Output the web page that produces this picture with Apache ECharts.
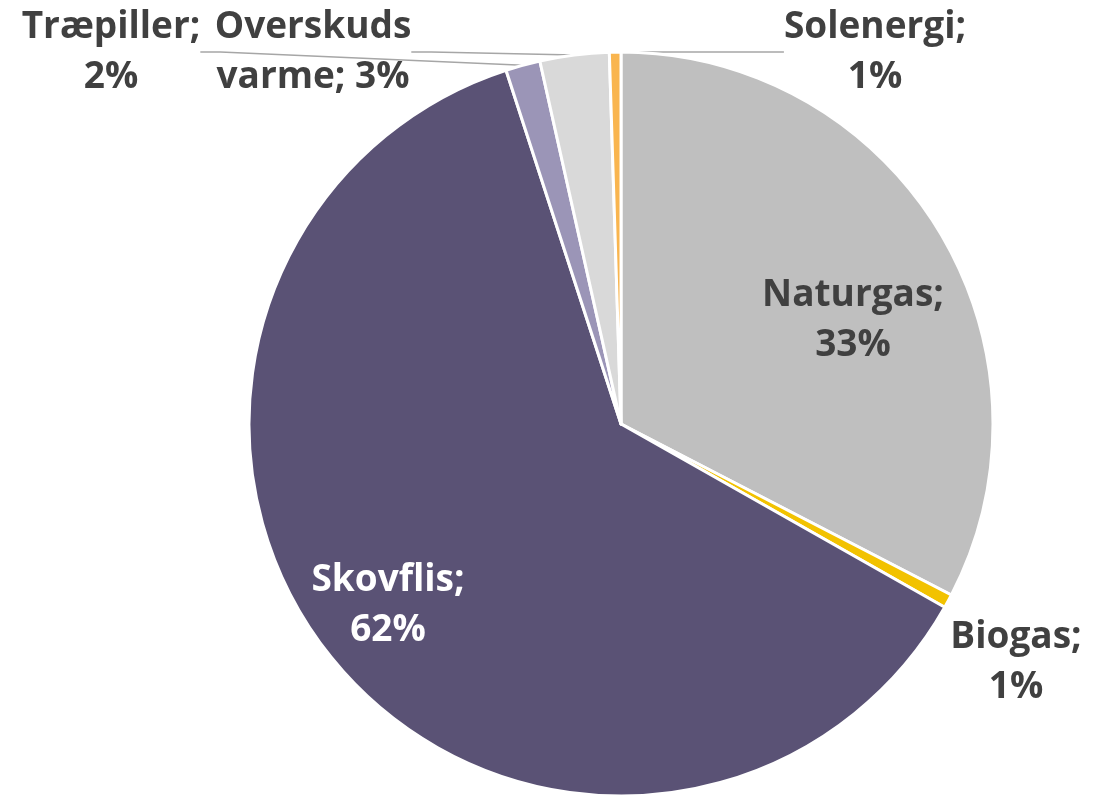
<!DOCTYPE html>
<html>
<head>
<meta charset="utf-8">
<script src="https://cdn.jsdelivr.net/npm/echarts@6/dist/echarts.min.js"></script>
<style>
  html, body { margin: 0; padding: 0; background: #fff; }
  #chart { width: 1107px; height: 795px; }
</style>
</head>
<body>
<div id="chart"></div>
<script>
// andel af varmeproduktion (%)
var names = ['Naturgas', 'Biogas', 'Skovflis', 'Træpiller', 'Overskuds\nvarme', 'Solenergi']
var values = [32.6, 0.6, 61.8, 1.5, 3.0, 0.5]
var colors = ['#bfbfbf', '#f2c200', '#5a5275', '#9b95b7', '#d9d9d9', '#f9b54f']
var insideLabels = ['Naturgas', 'Skovflis']

// label centres in px
var labelPos = [[853, 320], [1016, 662], [388, 605], [111, 52], [313, 52], [875, 52]]

var total = values.reduce(function (a, b) { return a + b }, 0)

var chart = echarts.init(document.getElementById('chart'))

var data = names.map(function (n, i) {
  var inside = insideLabels.indexOf(n) >= 0
  return {
    name: n,
    value: values[i],
    itemStyle: { color: colors[i] },
    label: {
      position: inside ? 'inside' : 'outside',
      color: n === 'Skovflis' ? '#ffffff' : '#404040'
    },
    labelLine: { show: !inside && n !== 'Biogas' }
  }
})

chart.setOption({
  animation: false,
  series: [
    {
      type: 'pie',
      center: [621, 424],
      radius: [0, 372],
      startAngle: 90,
      clockwise: true,
      avoidLabelOverlap: false,
      itemStyle: { borderColor: '#ffffff', borderWidth: 3 },
      label: {
        show: true,
        fontFamily: 'Open Sans',
        fontWeight: 'bold',
        fontSize: 37,
        lineHeight: 50,
        align: 'center',
        formatter: function (p) {
          var pct = Math.round(p.value / total * 100)
          if (p.name.indexOf('\n') >= 0) return p.name + '; ' + pct + '%'
          return p.name + ';\n' + pct + '%'
        }
      },
      labelLine: {
        show: true,
        length: 20,
        length2: 20,
        lineStyle: { color: '#a6a6a6', width: 1.5 }
      },
      labelLayout: function (params) {
        var pos = labelPos[params.dataIndex]
        return { x: pos[0], y: pos[1], align: 'center', verticalAlign: 'middle' }
      },
      data: data
    }
  ]
})
</script>
</body>
</html>
